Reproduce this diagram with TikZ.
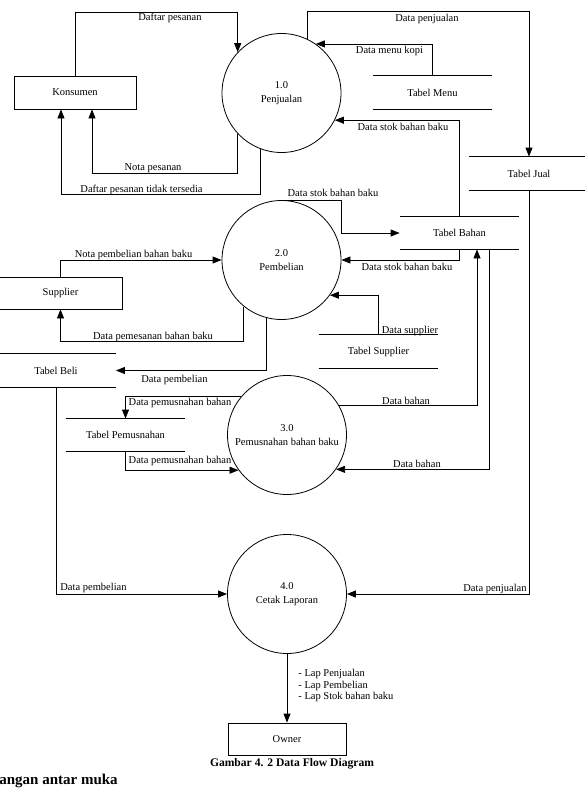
\documentclass[tikz,border=0pt]{standalone}
\usepackage{fontspec}
\setmainfont{Liberation Serif}
\usetikzlibrary{arrows.meta}

\begin{document}
\begin{tikzpicture}[
      x=1pt, y=-1pt,
      line width=0.8pt,
      font=\fontsize{10.5}{13.5}\selectfont,
      proc/.style={
        circle, draw, align=center,
        inner sep=0pt, minimum size=119pt
      },
      ent/.style={
        draw, inner sep=0pt,
        minimum width=122pt, minimum height=33pt
      },
      store/.style={inner sep=0pt, minimum width=119pt, minimum height=33pt},
      flow/.style={-{Triangle[length=9pt,width=7pt]}},
      lbl/.style={inner sep=0pt}
    ]
      \useasboundingbox (0,0) rectangle (585,790);

      \node[ent] (kons) at (75,92.5){Konsumen};
      \node[ent, minimum width=123pt, minimum height=32pt] (supp) at (60.5,293){Supplier};
      \node[ent, minimum width=118pt, minimum height=32pt] (owner) at (287,739){Owner};

      \node[proc] (p1) at (281.5,93){1.0\\Penjualan};
      \node[proc] (p2) at (281.5,260){2.0\\Pembelian};
      \node[proc] (p3) at (287,435){3.0\\Pemusnahan bahan baku};
      \node[proc] (p4) at (287,594){4.0\\Cetak Laporan};

      \node[store] (menu) at (432.5,92.5){Tabel Menu};
      \node[store, minimum width=120pt] (jual) at (529,173.5){Tabel Jual};
      \node[store, minimum height=32pt] (bahan) at (459.5,233){Tabel Bahan};
      \node[store] (tsup) at (378.5,351.5){Tabel Supplier};
      \node[store] (beli) at (56,370.5){Tabel Beli};
      \node[store, minimum height=32pt] (musnah) at (125.5,435){Tabel Pemusnahan};
      \foreach \s in {menu,jual,bahan,tsup,beli,musnah} {
        \draw (\s.north west)--(\s.north east) (\s.south west)--(\s.south east);
      }

      \draw[flow] (kons.north) -- (kons.north |- 0,12) -| (p1.137);
      \draw[flow] (p1.223) -- (p1.223 |- 0,173) -| ([xshift=17pt]kons.south);
      \draw[flow] (p1.249) -- (p1.249 |- 0,194) -| ([xshift=-14pt]kons.south);
      \draw[flow] (p1.64) -- (p1.64 |- 0,11) -| (jual.north);
      \draw[flow] (menu.north) |- (p1.55);
      \draw[flow] (bahan.north) |- (p1.333);

      \draw[flow] (supp.north) |- (p2.west);
      \draw[flow] (p2.231) -- (p2.231 |- 0,341) -| (supp.south);
      \draw[flow] (p2.255) |- (beli.east);
      \draw[flow] (p2.north) -- ++(60,0) |- (bahan.west);
      \draw[flow] (bahan.south) |- (p2.east);
      \draw[flow] (tsup.north) |- (p2.324);

      \draw[flow] (p3.140) -| (musnah.north);
      \draw[flow] (musnah.south) |- (p3.216);
      \draw[flow] (p3.30) -| ([xshift=17.5pt]bahan.south);
      \draw[flow] ([xshift=29.5pt]bahan.south) |- (p3.325);

      \draw[flow] (beli.south) |- (p4.west);
      \draw[flow] (jual.south) |- (p4.east);
      \draw[flow] (p4.south) -- (owner.north);

      \node[lbl] (l1) at (170,18){Daftar pesanan};
      \node[lbl] (l2) at (153,168){Nota pesanan};
      \node[lbl] (l3) at (141.5,190){Daftar pesanan tidak tersedia};
      \node[lbl] (l4) at (427,19){Data penjualan};
      \node[lbl] (l5) at (389.5,51){Data menu kopi};
      \node[lbl] (l6) at (403,127){Data stok bahan baku};
      \node[lbl] (l7) at (333,193){Data stok bahan baku};
      \node[lbl] (l8) at (133.5,255){Nota pembelian bahan baku};
      \node[lbl] (l9) at (153,337){Data pemesanan bahan baku};
      \node[lbl] (l10) at (174.5,380){Data pembelian};
      \node[lbl] (l11) at (407,267){Data stok bahan baku};
      \node[lbl] (l12) at (410,331){Data supplier};
      \node[lbl] (l13) at (180,403){Data pemusnahan bahan};
      \node[lbl] (l14) at (180,461){Data pemusnahan bahan};
      \node[lbl] (l15) at (406,401){Data bahan};
      \node[lbl] (l16) at (417,464){Data bahan};
      \node[lbl] (l17) at (93.5,588){Data pembelian};
      \node[lbl] (l18) at (495,589){Data penjualan};
      \node[lbl, anchor=west, align=left, font=\fontsize{10.5}{11.5}\selectfont] (lap) at (298,685.5){- Lap Penjualan\\- Lap Pembelian\\- Lap Stok bahan baku};

      \node[lbl, font=\fontsize{11.6}{13}\selectfont\bfseries] (cap) at (292,764){Gambar 4. 2 Data Flow Diagram};
      \node[lbl, anchor=west, font=\fontsize{15}{17}\selectfont\bfseries] (sub) at (-1,781){angan antar muka};
    \end{tikzpicture}
\end{document}
